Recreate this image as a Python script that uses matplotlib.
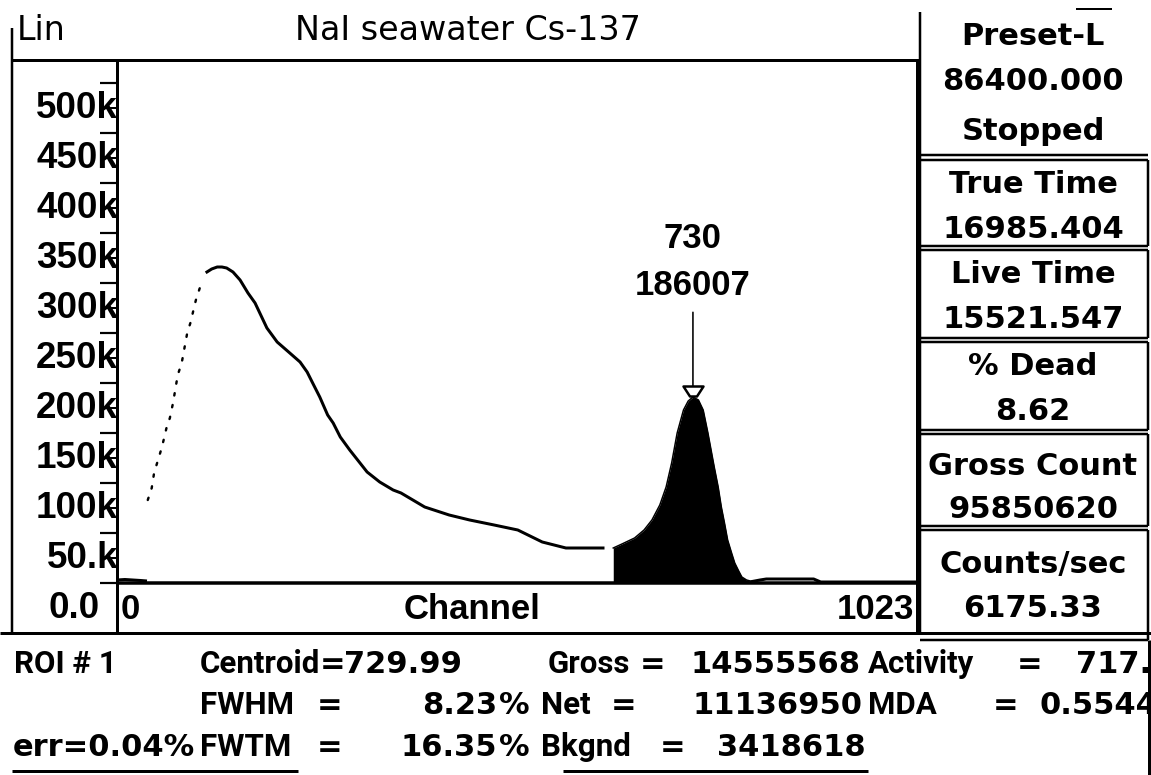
import numpy as np
import matplotlib
matplotlib.use("Agg")
import matplotlib.pyplot as plt
from matplotlib.transforms import ScaledTranslation, blended_transform_factory
from matplotlib.path import Path

# ---------------- data ----------------
low_ch = [0, 10, 20, 30, 38]
low_counts = [3000, 3500, 3000, 2500, 2000]

rise_ch = [39, 44, 47, 52, 57, 63, 67, 71, 77, 82, 89, 93, 100, 107]
rise_counts = [83000, 95000, 110000, 123000, 136000, 156000, 165000, 180000,
               208000, 220000, 250000, 260000, 283000, 300000]

cont_ch = [114, 120, 127, 133, 139, 147, 156, 166, 175, 190, 203, 219, 232, 241,
           248, 257, 267, 274, 283, 295, 308, 317, 333, 350, 360, 390, 421, 447,
           478, 508, 539, 569, 616]
cont_counts = [311000, 314000, 316000, 316000, 315000, 311000, 303000, 290000,
               280000, 255000, 241000, 230000, 221000, 211000, 200000, 186000,
               168000, 160000, 146000, 133000, 120000, 111000, 101000, 93000,
               90000, 76000, 68000, 63000, 58000, 53000, 41000, 35000, 35000]

roi_ch = [629, 640, 656, 668, 678, 688, 696, 703, 710, 718, 724, 730, 737, 743,
          749, 753, 757, 762, 766, 770, 774, 779, 783, 788, 792, 798, 805]
roi_counts = [35000, 39000, 45000, 53000, 63000, 78000, 96000, 120000, 150000,
              173000, 182000, 186007, 183000, 173000, 150000, 133000, 116000,
              96000, 76000, 60000, 43000, 30000, 20000, 12000, 6000, 3000, 1500]

tail_ch = [805, 815, 823, 850, 883, 892, 950, 1023]
tail_counts = [1500, 3000, 4000, 4000, 4000, 1000, 1000, 1000]

ytick_vals = [0, 50000, 100000, 150000, 200000, 250000, 300000, 350000,
              400000, 450000, 500000]
ytick_labels = ["0.0", "50.k", "100k", "150k", "200k", "250k", "300k",
                "350k", "400k", "450k", "500k"]

title = "NaI seawater Cs-137"
scale_label = "Lin"
x_label = "Channel"
x_first, x_last = "0", "1023"

panel_lines = ["Preset-L", "86400.000", "Stopped", "True Time", "16985.404",
               "Live Time", "15521.547", "% Dead", "8.62", "Gross Count",
               "95850620", "Counts/sec", "6175.33"]

# (text, x pixel, alignment, font kind)
roi_rows = [
    [("ROI # 1", 14, "left", "lab"), ("Centroid", 200, "left", "lab"),
     ("=", 333, "center", "val"), ("729.99", 344, "left", "val"),
     ("Gross", 548, "left", "lab"), ("=", 653, "center", "val"),
     ("14555568", 861, "right", "val"), ("Activity", 868, "left", "lab"),
     ("=", 1030, "center", "val"), ("717.5", 1076, "left", "val")],
    [("FWHM", 200, "left", "lab"), ("=", 330, "center", "val"),
     ("8.23", 497, "right", "val"), ("%", 499, "left", "val"),
     ("Net", 541, "left", "lab"), ("=", 624, "center", "val"),
     ("11136950", 863, "right", "val"), ("MDA", 868, "left", "lab"),
     ("=", 1006, "center", "val"), ("0.5544", 1040, "left", "val")],
    [("err=0.04%", 13, "left", "val"), ("FWTM", 200, "left", "lab"),
     ("=", 330, "center", "val"), ("16.35", 497, "right", "val"),
     ("%", 499, "left", "val"), ("Bkgnd", 541, "left", "lab"),
     ("=", 673, "center", "val"), ("3418618", 866, "right", "val")],
]

# ---------------- figure ----------------
W, H, DPI = 1151, 775, 100
fig = plt.figure(figsize=(W / DPI, H / DPI), dpi=DPI, facecolor="white")

ov = fig.add_axes([0, 0, 1, 1], zorder=0)
ov.set_xlim(0, W)
ov.set_ylim(H, 0)
ov.axis("off")

PT = 72.0 / DPI  # points per pixel


def hline(y, x0, x1, lw=3):
    ov.plot([x0, x1], [y, y], color="black", lw=lw * PT, solid_capstyle="butt")


def vline(x, y0, y1, lw=3):
    ov.plot([x, x], [y0, y1], color="black", lw=lw * PT, solid_capstyle="butt")


ax_left, ax_right, ax_top, ax_bot = 117, 917, 60, 633
ax = fig.add_axes([ax_left / W, 1 - ax_bot / H, (ax_right - ax_left) / W,
                   (ax_bot - ax_top) / H], zorder=1)
ax.patch.set_alpha(0)
ax.set_xlim(0, 1014)
ax.set_ylim(-50000, 523000)
for s in ("top", "bottom"):
    ax.spines[s].set_visible(False)
for s in ("left", "right"):
    ax.spines[s].set_linewidth(3 * PT)
ax.set_xticks([])
ax.set_yticks(ytick_vals)
ax.set_yticks(np.arange(25000, 500001, 50000), minor=True)
ax.tick_params(axis="y", which="major", direction="out", length=17 * PT,
               width=2.2 * PT, labelleft=False)
ax.tick_params(axis="y", which="minor", direction="out", length=7 * PT,
               width=2 * PT)

ax.axhline(0, color="black", lw=3.5 * PT, zorder=3)

ax.plot(low_ch, low_counts, color="black", lw=3 * PT, solid_capstyle="butt")
ax.plot(rise_ch, rise_counts, color="black", lw=2.4 * PT,
        linestyle=(0, (1, 4)), dash_capstyle="round")
ax.plot(cont_ch, cont_counts, color="black", lw=3 * PT)
ax.fill_between(roi_ch, 0, roi_counts, color="black", lw=0)
ax.plot(roi_ch, roi_counts, color="black", lw=1.5 * PT)
ax.plot(tail_ch, tail_counts, color="black", lw=3 * PT)

ipk = int(np.argmax(roi_counts))
pk_ch, pk_val = roi_ch[ipk], roi_counts[ipk]
mk = Path([(-1, 0.5), (1, 0.5), (0.35, -0.5), (-0.35, -0.5), (-1, 0.5)],
          [Path.MOVETO, Path.LINETO, Path.LINETO, Path.LINETO, Path.CLOSEPOLY])
ax.plot([pk_ch], [pk_val], marker=mk, ms=20 * PT, mfc="white", mec="black",
        mew=2.5 * PT, linestyle="none", zorder=5,
        transform=ax.transData + ScaledTranslation(0, 6 / DPI, fig.dpi_scale_trans))
lab_font = dict(family=["Liberation Sans", "DejaVu Sans"], weight="bold", size=25)
ax.annotate(f"{pk_val}", xy=(pk_ch, pk_val), xytext=(0, 111),
            textcoords="offset pixels", ha="center", va="center",
            arrowprops=dict(arrowstyle="-", lw=1.6 * PT, color="black",
                            shrinkA=7 * PT, shrinkB=9 * PT), **lab_font)
ax.annotate(f"{pk_ch}", xy=(pk_ch, pk_val), xytext=(0, 158),
            textcoords="offset pixels", ha="center", va="center", **lab_font)

ylab_tr = blended_transform_factory(ax.transAxes, ax.transData) + \
    ScaledTranslation(1 / DPI, -35 / DPI, fig.dpi_scale_trans)
for v, s in zip(ytick_vals, ytick_labels):
    dx = -18 if v == 0 else 0
    ax.text(0, v, s, transform=ylab_tr + ScaledTranslation(dx / DPI, 0, fig.dpi_scale_trans),
            ha="right", va="baseline", clip_on=False,
            family=["Liberation Sans", "DejaVu Sans"], weight="bold", size=26.5)

hline(60, 12, 920, 3)
vline(12, 28, 633, 2.5)
hline(633, 0, W, 3)
vline(920, 12, 633, 2.5)

axfont = dict(family=["Liberation Sans", "DejaVu Sans"], weight="bold", size=25)
ov.text(121, 619, x_first, ha="left", va="baseline", **axfont)
ov.text(472, 619, x_label, ha="center", va="baseline", **axfont)
ov.text(914, 619, x_last, ha="right", va="baseline", **axfont)

tfont = dict(family=["DejaVu Sans"], size=24)
ov.text(17, 40, scale_label, ha="left", va="baseline", **tfont)
ov.text(468, 40, title, ha="center", va="baseline", **tfont)

pfont = dict(family=["DejaVu Sans"], weight="bold", size=22)
panel_base = [45, 90, 140, 193, 238, 283, 328, 375, 420, 475, 518, 573, 617]
for s, yb in zip(panel_lines, panel_base):
    ov.text(1033, yb, s, ha="center", va="baseline", **pfont)
hline(9, 1076, 1112, 2)
hline(155, 920, 1148, 2.5)
for (y0, y1) in [(160, 246), (250, 338), (342, 430), (434, 526), (530, 640)]:
    hline(y0, 920, 1148, 2.5)
    hline(y1, 920, 1148, 2.5)
    vline(1148, y0, y1, 2.5)

fonts = {
    "lab": dict(family=["Roboto", "Liberation Sans", "DejaVu Sans"],
                weight="bold", size=22.5),
    "val": dict(family=["DejaVu Sans"], weight="bold", size=22),
}
for row, yb in zip(roi_rows, [673, 714, 756]):
    for s, x, ha, kind in row:
        ov.text(x, yb, s, ha=ha, va="baseline", clip_on=True, **fonts[kind])
hline(771, 12, 298, 3)
hline(771, 563, 868, 3)
vline(1149, 640, H, 3)

fig.savefig("out.png", dpi=DPI, facecolor="white")
